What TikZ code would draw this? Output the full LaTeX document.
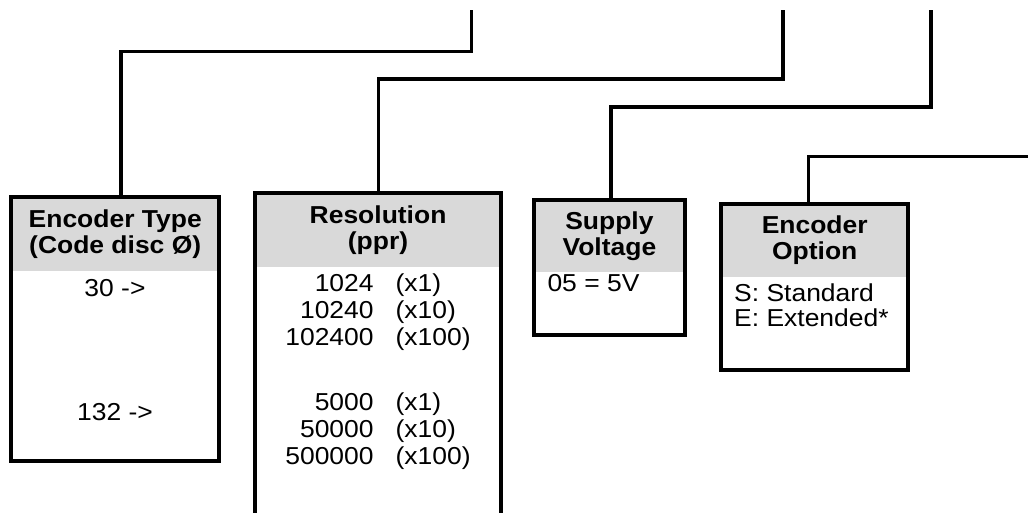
\documentclass[tikz,border=0pt]{standalone}
\usepackage{fontspec}
\setmainfont{Liberation Sans}[FakeStretch=1.08]
\usepackage{tikz}
\usetikzlibrary{calc}
\definecolor{headgrey}{HTML}{D9D9D9}

\begin{document}
\begin{tikzpicture}[x=1pt,y=-1pt,
  head/.style={fill=headgrey,inner sep=0pt,anchor=north west,align=center,
    font=\fontsize{24.5}{25.5}\selectfont\bfseries},
  txt/.style={inner sep=0pt,font=\fontsize{24.5}{26.7}\selectfont},
  frame/.style={line width=4pt},
  wire/.style={line width=3.3pt}]
\useasboundingbox (0,0) rectangle (1028,512);
% grey headers
\node[head,minimum width=208,minimum height=73.5] (typehead) at (11,197) {Encoder Type\\(Code disc Ø)};
\node[head,minimum width=246.3,minimum height=73.5] (reshead) at (254.7,193) {Resolution\\(ppr)};
\node[head,minimum width=151,minimum height=72] (volthead) at (533.7,200) {Supply\\Voltage};
\node[head,minimum width=187,minimum height=73] (opthead) at (721,203.7) {Encoder\\Option};
% outlines
\draw[frame] (typehead.north west) rectangle ++(208,264.2);
\draw[frame] (reshead.north west) rectangle ++(246.3,350);
\draw[frame] (volthead.north west) rectangle ++(151,134.7);
\draw[frame] (opthead.north west) rectangle ++(187,166);
% entries
\node[txt,anchor=base] (type30) at (115,296) {30 ->};
\node[txt,anchor=base] (type132) at (115,420) {132 ->};
\node[txt,anchor=base] (resA) at (378,291.7) {\begin{tabular}[t]{@{}r@{\hspace{22pt}}l@{}}1024&(x1)\\10240&(x10)\\102400&(x100)\end{tabular}};
\node[txt,anchor=base] (resB) at (378,410.7) {\begin{tabular}[t]{@{}r@{\hspace{22pt}}l@{}}5000&(x1)\\50000&(x10)\\500000&(x100)\end{tabular}};
\node[txt,anchor=base west] (volt05) at (547.3,291.7) {05 = 5V};
\node[txt,anchor=base west] (optS) at (734,301.7) {S: Standard};
\node[txt,anchor=base west] (optE) at (734,326.7) {E: Extended*};
% leader lines
\coordinate (t1) at (471.7,10);  \coordinate (k1) at (121,51.7);
\coordinate (t2) at (783,10);    \coordinate (k2) at (378.5,79);
\coordinate (t3) at (931,10);    \coordinate (k3) at (611,107);
\coordinate (t4) at (1040,156.7); \coordinate (k4) at (808.8,156.7);
\draw[wire] (t1) |- (k1) -- (k1 |- typehead.north);
\draw[wire] (t2) |- (k2) -- (k2 |- reshead.north);
\draw[wire] (t3) |- (k3) -- (k3 |- volthead.north);
\draw[wire] (t4) -- (k4) -- (k4 |- opthead.north);
\end{tikzpicture}
\end{document}
